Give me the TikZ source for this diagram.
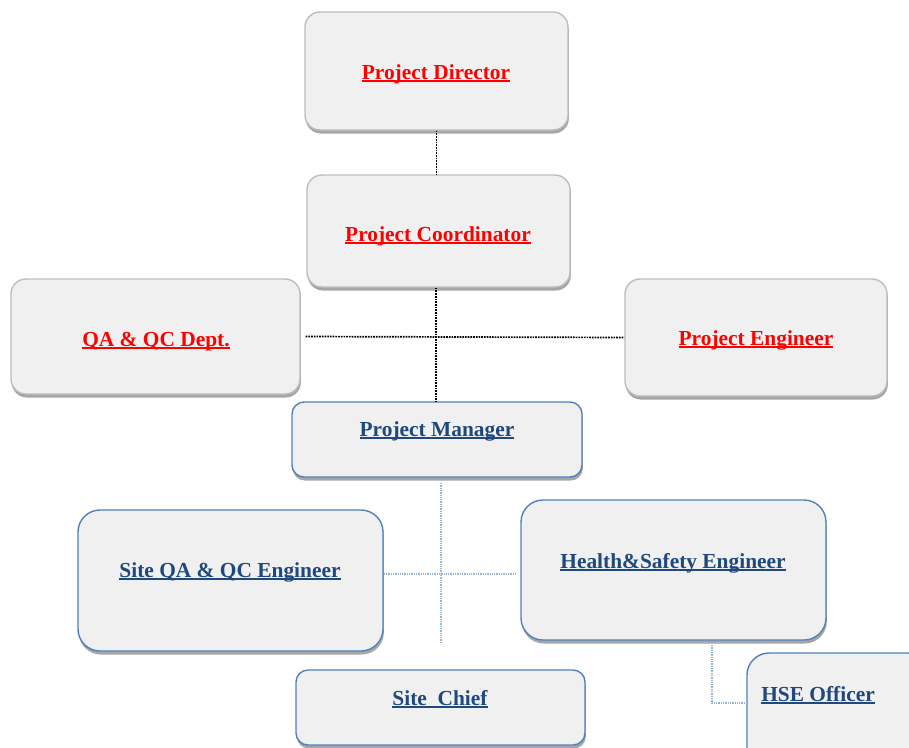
\documentclass[tikz,border=0pt]{standalone}
\usepackage{fontspec}
\setmainfont{Liberation Serif}
\usetikzlibrary{shadows}
\definecolor{boxfill}{HTML}{F0F0F0}
\definecolor{grayline}{HTML}{BDBDBD}
\definecolor{blueline}{HTML}{4F81BD}
\definecolor{bluetext}{HTML}{1F497D}
\definecolor{conblue}{HTML}{95B3D7}
\newcommand\myul[1]{\setbox0\hbox{#1}\rlap{\vrule height -1.2pt depth 3.2pt width \wd0}\box0}
\tikzset{
  box/.style={draw, line width=1.4pt, fill=boxfill, inner sep=0pt,
    drop shadow={shadow xshift=0.8pt, shadow yshift=-3.5pt, fill=black!35, opacity=1}},
  graybox/.style={box, draw=grayline, rounded corners=15pt},
  bluebox/.style={box, draw=blueline},
  redlbl/.style={text=red, font=\fontsize{21.4}{25}\selectfont\bfseries, inner sep=0pt, anchor=base},
  bluelbl/.style={text=bluetext, font=\fontsize{21.4}{25}\selectfont\bfseries, inner sep=0pt, anchor=base},
  blackcon/.style={draw=black, line width=1.7pt, densely dotted},
  bluecon/.style={draw=conblue, line width=1.3pt, densely dotted}
}
\begin{document}
\begin{tikzpicture}[x=1pt,y=-1pt]
\useasboundingbox (0,0) rectangle (909,747);
\clip (0,0) rectangle (909,747);
% boxes
\node[graybox, minimum width=263pt, minimum height=118pt] (dir) at (436.5,71) {};
\node[graybox, minimum width=263pt, minimum height=112pt] (coord) at (438.5,231) {};
\node[graybox, minimum width=289pt, minimum height=115pt] (qa) at (155.5,336.5) {};
\node[graybox, minimum width=262pt, minimum height=117pt] (pe) at (756,337.5) {};
\node[bluebox, rounded corners=12pt, minimum width=290pt, minimum height=75pt] (pm) at (437,439.5) {};
\node[bluebox, rounded corners=22pt, minimum width=305pt, minimum height=141pt] (sqa) at (230.5,580.5) {};
\node[bluebox, rounded corners=22pt, minimum width=305pt, minimum height=140pt] (hs) at (673.5,570) {};
\node[bluebox, rounded corners=12pt, minimum width=289pt, minimum height=75pt] (sc) at (440.5,707.5) {};
\node[bluebox, rounded corners=22pt, minimum width=183pt, minimum height=120pt] (hse) at (838.5,713) {};
% labels
\node[redlbl] (tdir) at (436,79) {\myul{Project Director}};
\node[redlbl] (tcoord) at (438,241) {\myul{Project Coordinator}};
\node[redlbl] (tqa) at (156,346) {\myul{QA \& QC Dept.}};
\node[redlbl] (tpe) at (756,345) {\myul{Project Engineer}};
\node[bluelbl] (tpm) at (437,436) {\myul{Project Manager}};
\node[bluelbl] (tsqa) at (230,577) {\myul{Site QA \& QC Engineer}};
\node[bluelbl] (ths) at (673,568) {\myul{Health\&Safety Engineer}};
\node[bluelbl] (tsc) at (440,705) {\myul{Site\ \ Chief}};
\node[bluelbl] (thse) at (818,701) {\myul{HSE Officer}};
% black connectors
\draw[blackcon] (dir.south) -- (dir.south |- coord.north);
\draw[blackcon] (coord.south -| 436,0) -- (pm.north -| 436,0);
\draw[blackcon] (qa.east) ++(5pt,0) -- (pe.west);
% blue connectors
\coordinate (v1) at (441,483);
\coordinate (v2) at (441,643);
\coordinate (hr) at (516,574);
\draw[bluecon] (v1) -- (v2);
\draw[bluecon] (sqa.east |- hr) -- (hr);
\coordinate (h1) at (712,645);
\coordinate (h2) at (747,703);
\draw[bluecon] (h1) |- (h2);
\end{tikzpicture}
\end{document}
